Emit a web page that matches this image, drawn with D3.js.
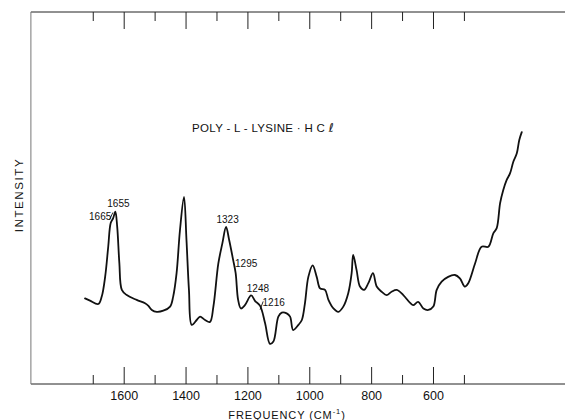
<!DOCTYPE html>
<html>
<head>
<meta charset="utf-8">
<script src="https://cdn.jsdelivr.net/npm/d3@7"></script>
<style>
  html, body { margin: 0; padding: 0; background: #fff; }
  svg { display: block; }
  text { font-family: "Liberation Sans", Arial, Helvetica, sans-serif; fill: #111; }
</style>
</head>
<body>
<svg id="chart" width="565" height="420"></svg>
<script>
// ---- Data ----
const frequency = [1725,1709,1682,1671,1660,1650,1642,1634,1627,1621,1614,1606,1590,1558,1531,1520,1509,1493,1472,1450,1440,1429,1418,1405,1397,1389,1380,1364,1353,1337,1321,1310,1294,1281,1269,1259,1246,1238,1230,1221,1208,1188,1175,1159,1143,1127,1116,1100,1089,1073,1062,1052,1035,1024,1014,1003,989,976,965,949,938,922,906,890,874,863,858,847,836,823,809,794,782,766,750,734,717,696,674,664,648,631,615,599,588,572,551,529,513,497,486,464,443,421,405,394,383,373,362,351,340,329,321,313];
const intensity = [23.0,22.4,21.5,23.5,28.8,36.9,43.3,44.6,46.3,42.3,32.5,25.3,23.9,22.6,21.7,21.0,19.9,19.4,19.7,20.8,23.5,29.8,41.4,50.3,38.7,25.3,15.9,17.2,18.1,17.2,16.7,20.8,32.4,37.8,42.2,38.7,33.3,29.8,22.6,20.3,21.2,23.8,22.3,21.0,16.4,10.8,11.4,18.1,19.2,19.0,18.1,14.5,15.9,17.2,21.7,28.8,31.9,28.8,25.7,25.3,22.6,20.3,19.4,20.8,24.4,29.8,34.7,30.6,26.2,25.3,27.1,29.8,26.2,24.8,23.9,24.8,25.3,23.9,21.8,21.2,22.1,20.3,19.9,20.8,25.3,27.5,28.8,29.3,28.4,26.2,27.1,32.4,36.9,36.9,40.5,41.9,48.6,52.1,54.8,56.6,59.8,62.0,65.6,67.7];

const majorTicks = [1600,1400,1200,1000,800,600];
const minorTicks = [1700,1500,1300,1100,900,700,500];

const peakLabels = ["1665","1655","1323","1295","1248","1216"];
const peakLabelFreq = [1712,1653,1300,1240,1202,1151];
const peakLabelInt  = [44.2,47.6,43.3,31.4,24.7,21.0];

// leader strokes ("/") : [fromFreq, fromInt, toFreq, toInt]
const leaders = [[1646,44.1,1635,46.1],[1159,20.0,1149,22.2]];

const titleMain = "POLY - L - LYSINE · H C ";
const titleEnd = "ℓ";
const yLabel = "INTENSITY";

// ---- Layout ----
const svg = d3.select("#chart");
const W = 565;
const mLeft = 30.9, mTop = 12, mBottom = 384;
const pxPerUnit = 0.3093;

const x = d3.scaleLinear().domain([1900, 0]).range([mLeft, mLeft + 1900 * pxPerUnit]);
const y = d3.scaleLinear().domain([0, 100]).range([mBottom, mTop]);

// frame
const frame = svg.append("g").attr("stroke", "#222").attr("stroke-width", 1).attr("fill", "none");
frame.append("line").attr("x1", mLeft).attr("x2", W).attr("y1", mTop).attr("y2", mTop);
frame.append("line").attr("x1", mLeft).attr("x2", W).attr("y1", mBottom).attr("y2", mBottom);
frame.append("line").attr("x1", mLeft).attr("x2", mLeft).attr("y1", mTop).attr("y2", mBottom).attr("stroke", "#777");

// bottom axis: major ticks with labels
const axB = svg.append("g").attr("transform", `translate(0,${mBottom})`)
  .call(d3.axisBottom(x).tickValues(majorTicks).tickSize(-17).tickPadding(7).tickFormat(d3.format("d")));
axB.select(".domain").remove();
axB.selectAll("line").attr("stroke", "#222");
axB.selectAll("text").attr("font-size", 12.5).attr("fill", "#111")
  .attr("font-family", '"Liberation Sans", Arial, sans-serif');

const axBm = svg.append("g").attr("transform", `translate(0,${mBottom})`)
  .call(d3.axisBottom(x).tickValues(minorTicks).tickSize(-9).tickFormat(""));
axBm.select(".domain").remove();
axBm.selectAll("line").attr("stroke", "#222");

// top axis
const axT = svg.append("g").attr("transform", `translate(0,${mTop})`)
  .call(d3.axisTop(x).tickValues(majorTicks).tickSize(-17).tickFormat(""));
axT.select(".domain").remove();
axT.selectAll("line").attr("stroke", "#222");
const axTm = svg.append("g").attr("transform", `translate(0,${mTop})`)
  .call(d3.axisTop(x).tickValues(minorTicks).tickSize(-9).tickFormat(""));
axTm.select(".domain").remove();
axTm.selectAll("line").attr("stroke", "#222");

// spectrum
const pts = frequency.map((f, i) => [f, intensity[i]]);
const line = d3.line().x(d => x(d[0])).y(d => y(d[1])).curve(d3.curveCatmullRom.alpha(0.5));
svg.append("path").datum(pts).attr("d", line)
  .attr("fill", "none").attr("stroke", "#111").attr("stroke-width", 1.8)
  .attr("stroke-linejoin", "round").attr("stroke-linecap", "round");

// peak labels
svg.append("g").selectAll("text").data(peakLabels).join("text")
  .attr("x", (d, i) => x(peakLabelFreq[i]))
  .attr("y", (d, i) => y(peakLabelInt[i]))
  .attr("font-size", 10).text(d => d);

svg.append("g").selectAll("line").data(leaders).join("line")
  .attr("x1", d => x(d[0])).attr("y1", d => y(d[1]))
  .attr("x2", d => x(d[2])).attr("y2", d => y(d[3]))
  .attr("stroke", "#111").attr("stroke-width", 0.9);

// title
const tt = svg.append("text").attr("x", 263).attr("y", 132).attr("text-anchor", "middle")
  .attr("font-size", 11.5).attr("letter-spacing", 0.3);
tt.append("tspan").text(titleMain);
tt.append("tspan").attr("font-family", '"DejaVu Sans", sans-serif').attr("font-size", 12).text(titleEnd);

// axis titles
const xt = svg.append("text").attr("x", 287).attr("y", 418.5).attr("text-anchor", "middle")
  .attr("font-size", 11).attr("letter-spacing", 0.9);
xt.append("tspan").text("FREQUENCY  (CM");
xt.append("tspan").attr("font-size", 7.5).attr("dy", -5).text("-1");
xt.append("tspan").attr("dy", 5).text(")");

svg.append("text").attr("transform", "translate(23,195) rotate(-90)")
  .attr("text-anchor", "middle").attr("font-size", 11.5).attr("letter-spacing", 1.6).text(yLabel);
</script>
</body>
</html>
